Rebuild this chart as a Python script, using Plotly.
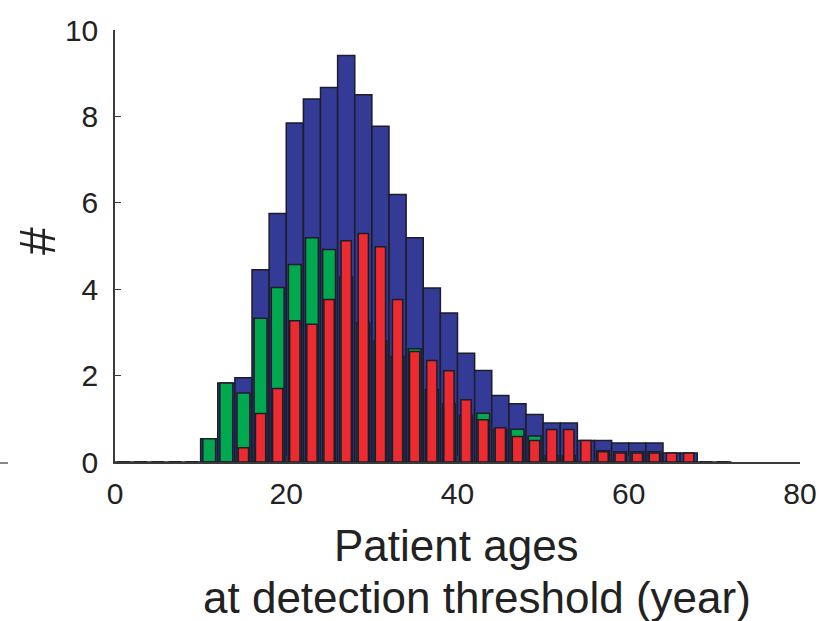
import plotly.graph_objects as go

# Bin centers (2-year bins) from 1 to 71
bin_centers = [1, 3, 5, 7, 9, 11, 13, 15, 17, 19, 21, 23, 25, 27, 29, 31, 33, 35,
               37, 39, 41, 43, 45, 47, 49, 51, 53, 55, 57, 59, 61, 63, 65, 67, 69, 71]

total_vals = [0, 0, 0, 0, 0, 0.54, 1.83, 1.95, 4.45, 5.75, 7.85, 8.40, 8.67, 9.41,
              8.50, 7.77, 6.19, 5.19, 4.03, 3.45, 2.52, 2.12, 1.54, 1.35, 1.10, 0.90,
              0.90, 0.50, 0.50, 0.44, 0.44, 0.44, 0.21, 0.21, 0, 0]

green_vals = [0, 0, 0, 0, 0, 0.54, 1.83, 1.60, 3.33, 4.04, 4.57, 5.19, 4.92, 4.28,
              3.22, 2.80, 2.44, 2.62, 1.68, 1.35, 1.08, 1.13, 0.75, 0.76, 0.60, 0.15,
              0.15, 0, 0.26, 0.24, 0.24, 0.24, 0, 0, 0, 0]

red_vals = [0, 0, 0, 0, 0, 0, 0, 0.33, 1.12, 1.70, 3.27, 3.19, 3.76, 5.12,
            5.29, 4.98, 3.76, 2.56, 2.35, 2.11, 1.44, 0.98, 0.79, 0.59, 0.50, 0.75,
            0.75, 0.50, 0.24, 0.21, 0.21, 0.21, 0.21, 0.21, 0, 0]

x_ticks = [0, 20, 40, 60, 80]
y_ticks = [0, 2, 4, 6, 8, 10]

BLUE = "#343b96"
GREEN = "#00a84f"
RED = "#ec2a2f"
EDGE = "#1c1d28"
AXIS = "#3a3a3a"
FONT = "Liberation Sans"

fig = go.Figure()
fig.add_trace(go.Bar(x=bin_centers, y=total_vals, width=2.0,
                     marker=dict(color=BLUE, line=dict(color=EDGE, width=1.5))))
fig.add_trace(go.Bar(x=bin_centers, y=green_vals, width=1.5,
                     marker=dict(color=GREEN, line=dict(color=EDGE, width=1.5))))
fig.add_trace(go.Bar(x=bin_centers, y=red_vals, width=1.2,
                     marker=dict(color=RED, line=dict(color=EDGE, width=1.5))))

fig.update_layout(
    width=820, height=621,
    margin=dict(l=115, r=20, t=30, b=159),
    barmode="overlay",
    showlegend=False,
    plot_bgcolor="white", paper_bgcolor="white",
    font=dict(family=FONT, color="#222222"),
)
fig.update_xaxes(range=[0, 80], tickvals=x_ticks, ticktext=[str(v) for v in x_ticks],
                 showline=True, linecolor=AXIS, linewidth=1.5, showgrid=False,
                 zeroline=False, ticks="inside", ticklen=6, tickcolor=AXIS,
                 tickwidth=1.2, tickfont=dict(size=30, family=FONT, color="#222222"),
                 ticklabelstandoff=4, automargin=False, fixedrange=True)
fig.update_yaxes(range=[0, 10], tickvals=y_ticks, ticktext=[str(v) for v in y_ticks],
                 showline=True, linecolor=AXIS, linewidth=1.5, showgrid=False,
                 zeroline=False, ticks="inside", ticklen=6, tickcolor=AXIS,
                 tickwidth=1.2, tickfont=dict(size=30, family=FONT, color="#222222"),
                 ticklabelstandoff=9, automargin=False, fixedrange=True)

def px_to_paper_x(px):
    return (px - 115) / 685.0

def px_to_paper_y(py):
    return (462 - py) / 432.0

fig.add_annotation(text="Patient ages", xref="paper", yref="paper",
                   x=px_to_paper_x(456), y=px_to_paper_y(545), xanchor="center",
                   yanchor="middle", showarrow=False,
                   font=dict(size=44, family=FONT, color="#222222"))
fig.add_annotation(text="at detection threshold (year)", xref="paper", yref="paper",
                   x=px_to_paper_x(477), y=px_to_paper_y(597), xanchor="center",
                   yanchor="middle", showarrow=False,
                   font=dict(size=44, family=FONT, color="#222222"))
fig.add_annotation(text="#", xref="paper", yref="paper",
                   x=px_to_paper_x(38), y=px_to_paper_y(241), xanchor="center",
                   yanchor="middle", showarrow=False, textangle=-90,
                   font=dict(size=50, family=FONT, color="#222222"))
fig.add_shape(type="line", xref="paper", yref="paper",
              x0=px_to_paper_x(0), x1=px_to_paper_x(8),
              y0=px_to_paper_y(463), y1=px_to_paper_y(463),
              line=dict(color=AXIS, width=1.2))

fig.write_html("out.html")
